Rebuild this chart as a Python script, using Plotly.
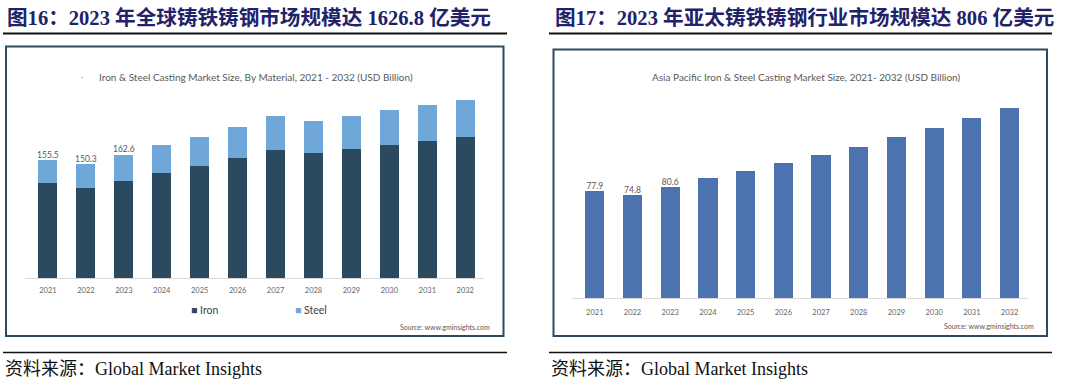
import plotly.graph_objects as go

# ---------------- data ----------------
years = ["2021", "2022", "2023", "2024", "2025", "2026",
         "2027", "2028", "2029", "2030", "2031", "2032"]
iron = [125.6, 118.2, 128.2, 137.9, 147.6, 158.1, 168.2, 164.7, 170.0, 175.2, 180.5, 185.8]
steel = [29.9, 32.1, 34.4, 36.9, 38.6, 40.8, 44.8, 42.5, 43.8, 45.8, 47.0, 48.7]
apac = [77.9, 74.8, 80.6, 87.5, 92.6, 98.2, 104.0, 110.0, 116.8, 123.6, 130.6, 138.3]
n_labeled = 3  # only the first three years carry value labels

left_header = "图16：2023 年全球铸铁铸钢市场规模达 1626.8 亿美元"
right_header = "图17：2023 年亚太铸铁铸钢行业市场规模达 806 亿美元"
left_title = "Iron & Steel Casting Market Size, By Material, 2021 - 2032 (USD Billion)"
right_title = "Asia Pacific Iron & Steel Casting Market Size, 2021- 2032 (USD Billion)"
source_note = "资料来源：Global Market Insights"
inner_source = "Source: www.gminsights.com"
series_names = ["Iron", "Steel"]

total = [round(a + b, 1) for a, b in zip(iron, steel)]

# ---------------- style ----------------
W, H = 1080, 385
IRON = "#2B4A60"
STEEL = "#6FA7D8"
APAC = "#4C72AF"
HEAD = "#22226B"
GRAY = "#595959"
SANS = "Lato, Open Sans, sans-serif"
SERIF = "Liberation Serif, Times New Roman, Noto Sans CJK SC, serif"


def fx(p):
    return p / W


def fy(p):
    return 1 - p / H


fig = go.Figure()

fig.add_trace(go.Bar(x=years, y=iron, name=series_names[0], marker_color=IRON,
                     marker_line_width=0, width=0.5, xaxis="x", yaxis="y",
                     showlegend=False))
fig.add_trace(go.Bar(x=years, y=steel, name=series_names[1], marker_color=STEEL,
                     marker_line_width=0, width=0.5, xaxis="x", yaxis="y",
                     showlegend=False))
fig.add_trace(go.Scatter(x=years[:n_labeled], y=total[:n_labeled],
                         text=[f"{v:.1f}" for v in total[:n_labeled]],
                         mode="text", textposition="top center",
                         textfont=dict(family=SANS, size=8.5, color=GRAY),
                         cliponaxis=False, xaxis="x", yaxis="y", showlegend=False))

fig.add_trace(go.Bar(x=years, y=apac, name="Asia Pacific", marker_color=APAC,
                     marker_line_width=0, width=0.51, xaxis="x2", yaxis="y2",
                     showlegend=False))
fig.add_trace(go.Scatter(x=years[:n_labeled], y=apac[:n_labeled],
                         text=[f"{v:.1f}" for v in apac[:n_labeled]],
                         mode="text", textposition="top center",
                         textfont=dict(family=SANS, size=8.5, color=GRAY),
                         cliponaxis=False, xaxis="x2", yaxis="y2", showlegend=False))

axis_common = dict(type="category", showline=True, linecolor="#D9D9D9", linewidth=1,
                   ticks="", showgrid=False, zeroline=False, fixedrange=True,
                   tickfont=dict(family=SANS, size=7.5, color="#666666"))

fig.update_layout(
    width=W, height=H,
    margin=dict(l=0, r=0, t=0, b=0),
    paper_bgcolor="white", plot_bgcolor="rgba(0,0,0,0)",
    barmode="stack",
    showlegend=False,
    xaxis=dict(domain=[fx(25), fx(484.2)], anchor="y", ticklabelstandoff=5, **axis_common),
    yaxis=dict(domain=[fy(278), fy(90)], range=[0, 247.7], visible=False,
               anchor="x", fixedrange=True),
    xaxis2=dict(domain=[fx(572), fx(1028.4)], anchor="y2", ticklabelstandoff=7, **axis_common),
    yaxis2=dict(domain=[fy(298.3), fy(100)], range=[0, 143.9], visible=False,
                anchor="x2", fixedrange=True),
)

shapes = []
# header underlines
shapes.append(dict(type="line", xref="paper", yref="paper", x0=fx(3), x1=fx(507),
                   y0=fy(33.5), y1=fy(33.5), line=dict(color="#111111", width=2)))
shapes.append(dict(type="line", xref="paper", yref="paper", x0=fx(549), x1=fx(1052),
                   y0=fy(33.5), y1=fy(33.5), line=dict(color="#111111", width=2)))
# chart frames
shapes.append(dict(type="rect", xref="paper", yref="paper", x0=fx(6), x1=fx(503.5),
                   y0=fy(336), y1=fy(46.5), line=dict(color="#2E4A5E", width=2)))
shapes.append(dict(type="rect", xref="paper", yref="paper", x0=fx(553.5), x1=fx(1047),
                   y0=fy(336), y1=fy(49.5), line=dict(color="#2C4A66", width=2)))
# bottom rules
shapes.append(dict(type="line", xref="paper", yref="paper", x0=fx(3), x1=fx(507),
                   y0=fy(352.5), y1=fy(352.5), line=dict(color="#111111", width=1.5)))
shapes.append(dict(type="line", xref="paper", yref="paper", x0=fx(549), x1=fx(1052),
                   y0=fy(352.5), y1=fy(352.5), line=dict(color="#111111", width=1.5)))
fig.update_layout(shapes=shapes)

ann = []
ann.append(dict(text=f"<b>{left_header}</b>", x=fx(5), y=fy(17), xanchor="left",
                yanchor="middle", font=dict(family=SERIF, size=20.6, color=HEAD)))
ann.append(dict(text=f"<b>{right_header}</b>", x=fx(553), y=fy(17), xanchor="left",
                yanchor="middle", font=dict(family=SERIF, size=20.6, color=HEAD)))
ann.append(dict(text=source_note, x=fx(3), y=fy(369), xanchor="left", yanchor="middle",
                font=dict(family=SERIF, size=18, color="#111111")))
ann.append(dict(text=source_note, x=fx(549), y=fy(369), xanchor="left", yanchor="middle",
                font=dict(family=SERIF, size=18, color="#111111")))
ann.append(dict(text=left_title, x=fx(255.5), y=fy(77), xanchor="center", yanchor="middle",
                font=dict(family=SANS, size=10, color=GRAY)))
ann.append(dict(text="·", x=fx(82), y=fy(77), xanchor="center", yanchor="middle",
                font=dict(family=SANS, size=9, color="#999999")))
ann.append(dict(text=right_title, x=fx(806), y=fy(77), xanchor="center", yanchor="middle",
                font=dict(family=SANS, size=10, color=GRAY)))
ann.append(dict(text=inner_source, x=fx(492), y=fy(327), xanchor="right", yanchor="middle",
                font=dict(family=SANS, size=7, color=GRAY)))
ann.append(dict(text=inner_source, x=fx(1036), y=fy(326), xanchor="right", yanchor="middle",
                font=dict(family=SANS, size=7, color=GRAY)))
# legend (left chart)
ann.append(dict(text=f"<span style='color:{IRON}'>■</span> {series_names[0]}",
                x=fx(189), y=fy(310), xanchor="left", yanchor="middle",
                font=dict(family=SANS, size=10.5, color="#404040")))
ann.append(dict(text=f"<span style='color:{STEEL}'>■</span> {series_names[1]}",
                x=fx(292.5), y=fy(310), xanchor="left", yanchor="middle",
                font=dict(family=SANS, size=10.5, color="#404040")))
for a in ann:
    a.update(xref="paper", yref="paper", showarrow=False)
fig.update_layout(annotations=ann)

fig.write_html("out.html", config={"displayModeBar": False},
               post_script="document.body.style.margin='0';")
